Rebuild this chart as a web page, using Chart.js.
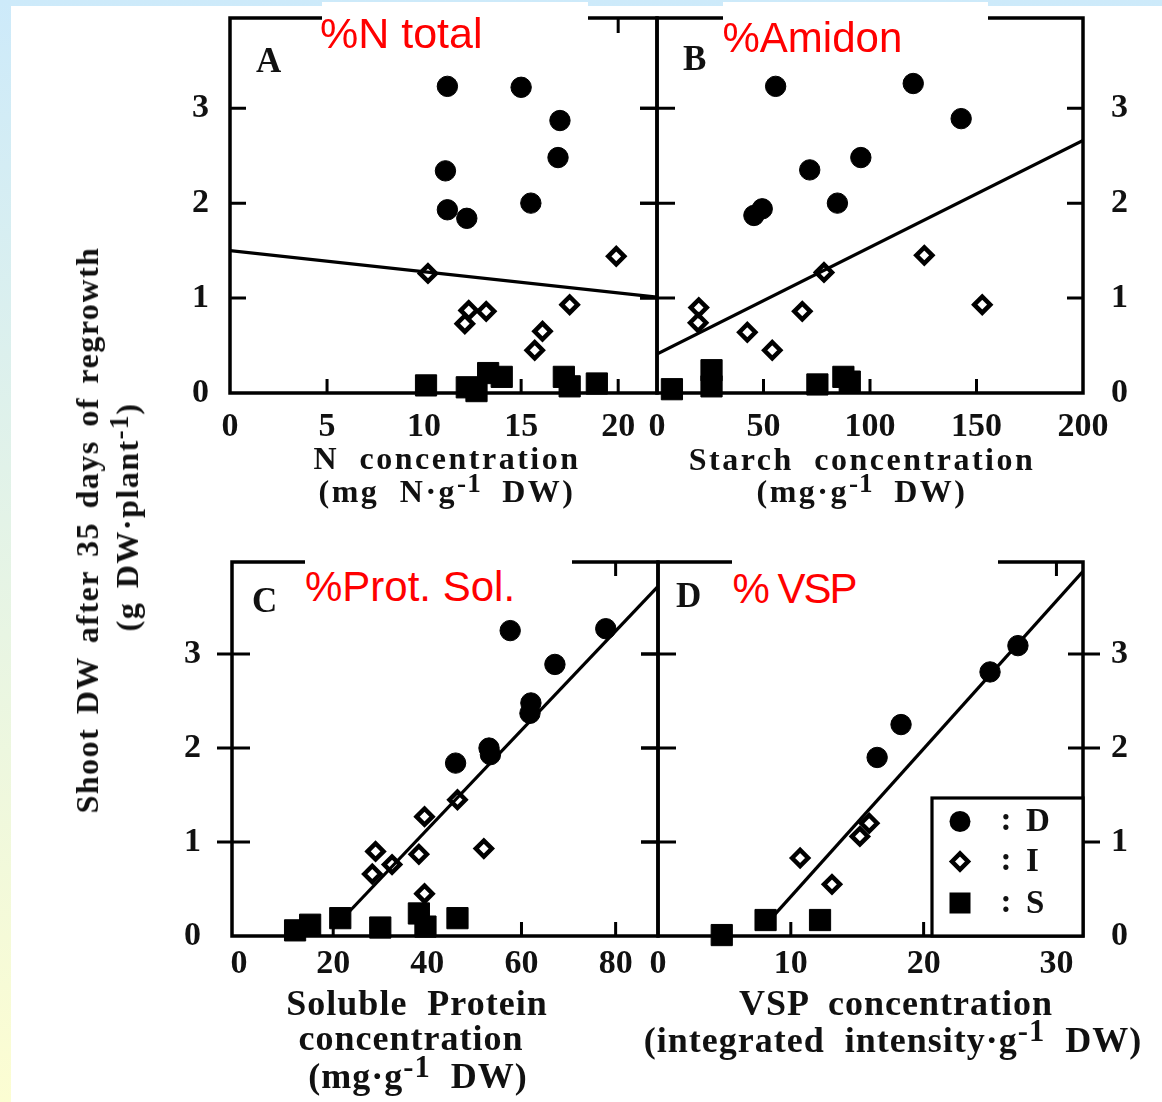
<!DOCTYPE html>
<html>
<head>
<meta charset="utf-8">
<script src="https://cdn.jsdelivr.net/npm/chart.js@4.4.1/dist/chart.umd.min.js"></script>
<style>
  html, body { margin: 0; padding: 0; }
  body {
    width: 1162px; height: 1102px; position: relative; overflow: hidden;
    background: linear-gradient(#cdeafa, #fcfdd2);
  }
  #sheet { position: absolute; left: 11px; top: 6px; right: 0; bottom: 0; background: #fff; }
  canvas { position: absolute; left: 0; top: 0; }
  .lbl {
    position: absolute; white-space: nowrap; line-height: 1; color: #111;
    font-family: "Liberation Serif", "Times New Roman", serif; font-weight: bold;
  }
  .t32 { font-size: 32px; letter-spacing: 2.5px; word-spacing: 10px; transform: translateX(-50%); }
  .t36 { font-size: 36px; letter-spacing: 1px; word-spacing: 10px; transform: translateX(-50%); }
  .lbl sup { font-size: 0.85em; line-height: 0; vertical-align: 0.35em; letter-spacing: 1px; }
  .ytitle { font-size: 32px; letter-spacing: 1.5px; word-spacing: 4px; transform: translate(-50%, -50%) rotate(-90deg); }
  .letter { font-size: 35px; }
  .redbox { position: absolute; background: #fff; z-index: 5; }
  .redbox span {
    position: absolute; white-space: nowrap; line-height: 1; color: #ff0000;
    font-family: "Liberation Sans", Arial, sans-serif;
  }
</style>
</head>
<body>
<div id="sheet"></div>
<canvas id="pA" width="1162" height="1102"></canvas>
<canvas id="pB" width="1162" height="1102"></canvas>
<canvas id="pC" width="1162" height="1102"></canvas>
<canvas id="pD" width="1162" height="1102"></canvas>

<!-- panel letters -->
<div class="lbl letter" style="left:256px;top:43px">A</div>
<div class="lbl letter" style="left:683px;top:41px">B</div>
<div class="lbl letter" style="left:252px;top:583px">C</div>
<div class="lbl letter" style="left:676px;top:578px">D</div>

<!-- axis titles -->
<div class="lbl t32" style="left:447px;top:442px">N concentration</div>
<div class="lbl t32" style="left:447px;top:475px">(mg N·g<sup>-1</sup> DW)</div>
<div class="lbl t32" style="left:862px;top:443px">Starch concentration</div>
<div class="lbl t32" style="left:862px;top:475px">(mg·g<sup>-1</sup> DW)</div>
<div class="lbl t36" style="left:417px;top:985px">Soluble Protein</div>
<div class="lbl t36" style="left:411px;top:1020px">concentration</div>
<div class="lbl t36" style="left:418px;top:1058px">(mg·g<sup>-1</sup> DW)</div>
<div class="lbl t36" style="left:896px;top:985px">VSP concentration</div>
<div class="lbl t36" style="left:893px;top:1022px">(integrated intensity·g<sup>-1</sup> DW)</div>
<div class="lbl ytitle" style="left:87px;top:530px">Shoot DW after 35 days of regrowth</div>
<div class="lbl ytitle" style="left:127px;top:517px">(g DW·plant<sup>-1</sup>)</div>

<!-- red overlay labels -->
<div class="redbox" style="left:322px;top:2px;width:266px;height:55px"><span style="left:-2px;top:9.6px;font-size:43px">%N total</span></div>
<div class="redbox" style="left:723px;top:2px;width:265px;height:61px"><span style="left:-0.5px;top:14.5px;font-size:42px">%Amidon</span></div>
<div class="redbox" style="left:305px;top:558px;width:267px;height:57px"><span style="left:0px;top:8px;font-size:42px">%Prot. Sol.</span></div>
<div class="redbox" style="left:732px;top:558px;width:266px;height:60px"><span style="left:0.5px;top:10px;font-size:42px;letter-spacing:-2px">% VSP</span></div>

<script>
// ---- values ----
const yTicks = [0, 1, 2, 3];

// A: N concentration
const nTicks = [0, 5, 10, 15, 20];
const nDx = [11.2, 15.0, 17.0, 16.9, 11.1, 11.2, 12.2, 15.5];
const nDy = [3.23, 3.22, 2.87, 2.48, 2.34, 1.93, 1.84, 2.0];
const nIx = [10.2, 19.9, 12.3, 13.2, 12.1, 17.5, 16.1, 15.7];
const nIy = [1.26, 1.44, 0.87, 0.86, 0.73, 0.93, 0.65, 0.45];
const nSx = [10.1, 12.2, 12.7, 13.3, 14.0, 17.2, 17.5, 18.9];
const nSy = [0.08, 0.06, 0.02, 0.21, 0.17, 0.17, 0.07, 0.10];
const nFitX = [0, 22];
const nFitY = [1.5, 1.01];

// B: starch concentration
const stTicks = [0, 50, 100, 150, 200];
const stDx = [55.7, 120.3, 142.8, 95.7, 71.7, 84.7, 45.5, 49.4];
const stDy = [3.23, 3.26, 2.89, 2.48, 2.35, 2.0, 1.87, 1.94];
const stIx = [125.5, 78.4, 152.7, 68.2, 19.6, 19.3, 42.4, 54.1];
const stIy = [1.45, 1.27, 0.93, 0.86, 0.90, 0.74, 0.64, 0.45];
const stSx = [7.0, 25.6, 25.6, 75.3, 87.5, 90.5];
const stSy = [0.04, 0.24, 0.07, 0.09, 0.17, 0.12];
const stFitX = [0, 200];
const stFitY = [0.41, 2.66];

// C: soluble protein concentration
const spTicks = [0, 20, 40, 60, 80];
const spDx = [57.6, 77.9, 67.1, 62.0, 61.8, 53.1, 53.4, 46.0];
const spDy = [3.25, 3.27, 2.89, 2.48, 2.37, 2.0, 1.93, 1.84];
const spIx = [46.4, 39.4, 29.0, 32.5, 28.3, 38.2, 52.0, 39.4];
const spIy = [1.45, 1.27, 0.90, 0.76, 0.66, 0.87, 0.93, 0.45];
const spSx = [11.9, 15.1, 21.5, 30.0, 38.2, 39.6, 46.4];
const spSy = [0.06, 0.12, 0.19, 0.09, 0.24, 0.10, 0.19];
const spFitX = [20, 89];
const spFitY = [0.08, 3.72];

// D: VSP concentration
const vTicks = [0, 10, 20, 30];
const vDx = [27.1, 25.0, 18.3, 16.5];
const vDy = [3.09, 2.81, 2.25, 1.90];
const vIx = [15.9, 15.2, 10.7, 13.1];
const vIy = [1.20, 1.06, 0.83, 0.55];
const vSx = [4.8, 8.1, 12.2];
const vSy = [0.01, 0.17, 0.17];
const vFitX = [8.8, 32];
const vFitY = [0.23, 3.88];

const keyLabels = ['D', 'I', 'S'];

const tickFont = {family: '"Liberation Serif", "Times New Roman", serif', size: 34, weight: 'bold'};

function pts(xs, ys) {
  return xs.map((v, i) => ({x: v, y: ys[i]}));
}

// box round the plot plus the short inward (and some outward) tick marks
const framePlugin = {
  id: 'frame',
  beforeDatasetsDraw(chart, args, o) {
    const {ctx, chartArea: a} = chart;
    const x = chart.scales.x, y = chart.scales.y;
    ctx.save();
    ctx.strokeStyle = '#000';
    ctx.lineWidth = 3;
    ctx.beginPath();
    x.ticks.forEach(t => {
      if (t.value <= Math.max(x.min, 0) || t.value >= x.max) return;
      const px = x.getPixelForValue(t.value);
      ctx.moveTo(px, a.bottom + o.bottom[1]); ctx.lineTo(px, a.bottom - o.bottom[0]);
      ctx.moveTo(px, a.top - o.top[1]); ctx.lineTo(px, a.top + o.top[0]);
    });
    y.ticks.forEach(t => {
      if (t.value <= y.min || t.value >= y.max) return;
      const py = y.getPixelForValue(t.value);
      ctx.moveTo(a.left - o.left[1], py); ctx.lineTo(a.left + o.left[0], py);
      ctx.moveTo(a.right + o.right[1], py); ctx.lineTo(a.right - o.right[0], py);
    });
    ctx.stroke();
    ctx.lineWidth = 3.5;
    ctx.strokeRect(a.left, a.top, a.right - a.left, a.bottom - a.top);
    ctx.restore();
  }
};

// the boxed key in the bottom right corner of panel D
const keyPlugin = {
  id: 'keyBox',
  afterDatasetsDraw(chart, args, o) {
    const {ctx, chartArea: a} = chart;
    const left = a.right - o.w, top = a.bottom - o.h;
    ctx.save();
    ctx.fillStyle = '#fff';
    ctx.fillRect(left, top, o.w, o.h);
    ctx.strokeStyle = '#000';
    ctx.lineWidth = 3.2;
    ctx.strokeRect(left, top, o.w, o.h);
    ctx.font = 'bold 33px "Liberation Serif", serif';
    ctx.textBaseline = 'middle';
    keyLabels.forEach((lab, i) => {
      const cy = top + o.rows[i];
      const cx = left + 28;
      ctx.fillStyle = '#000';
      ctx.beginPath();
      if (i === 0) {
        ctx.arc(cx, cy, 10.5, 0, Math.PI * 2);
        ctx.fill();
      } else if (i === 1) {
        ctx.lineWidth = 4.5;
        ctx.moveTo(cx - 8, cy); ctx.lineTo(cx, cy - 8);
        ctx.lineTo(cx + 8, cy); ctx.lineTo(cx, cy + 8);
        ctx.closePath();
        ctx.stroke();
      } else {
        ctx.fillRect(cx - 10.5, cy - 10.5, 21, 21);
      }
      ctx.fillStyle = '#111';
      ctx.textAlign = 'center';
      ctx.fillText(':', left + 74, cy);
      ctx.textAlign = 'left';
      ctx.fillText(lab, left + 94, cy + 1);
    });
    ctx.restore();
  }
};

function panel(id, p) {
  const fixedTicks = vals => s => { s.ticks = vals.map(v => ({value: v})); };
  new Chart(document.getElementById(id), {
    type: 'scatter',
    data: {
      datasets: [
        {data: pts(p.dx, p.dy), pointStyle: 'circle', pointRadius: 10.2,
         pointBackgroundColor: '#000', pointBorderColor: '#000', pointBorderWidth: 1, clip: false},
        {data: pts(p.ix, p.iy), pointStyle: 'rectRot', pointRadius: 8,
         pointBackgroundColor: 'rgba(255,255,255,0)', pointBorderColor: '#000', pointBorderWidth: 4.5, clip: false},
        {data: pts(p.sx, p.sy), pointStyle: 'rect', pointRadius: 15,
         pointBackgroundColor: '#000', pointBorderColor: '#000', pointBorderWidth: 1, clip: false},
        {data: pts(p.fx, p.fy), showLine: true, borderColor: '#000', borderWidth: 3.2,
         pointRadius: 0, order: 5}
      ]
    },
    options: {
      responsive: false,
      animation: false,
      events: [],
      devicePixelRatio: 1,
      layout: {padding: p.pad},
      plugins: {
        legend: {display: false},
        tooltip: {enabled: false},
        frame: p.marks,
        keyBox: p.key || false
      },
      scales: {
        x: {
          type: 'linear', position: 'bottom', min: p.xmin, max: p.xmax,
          grid: {display: false, drawTicks: false}, border: {display: false},
          afterBuildTicks: fixedTicks(p.xt),
          afterFit: s => { s.height = p.xh; s.paddingLeft = 0; s.paddingRight = 0; },
          ticks: {font: tickFont, color: '#111', padding: p.xpad, maxRotation: 0, autoSkip: false}
        },
        y: {
          type: 'linear', position: p.ypos, min: 0, max: p.ymax,
          grid: {display: false, drawTicks: false}, border: {display: false},
          afterBuildTicks: fixedTicks(yTicks),
          afterFit: s => { s.width = p.yw; s.paddingTop = 0; s.paddingBottom = 0; },
          ticks: {font: tickFont, color: '#111', padding: p.ypad, autoSkip: false}
        }
      }
    },
    plugins: [framePlugin, keyPlugin]
  });
}

panel('pA', {
  dx: nDx, dy: nDy, ix: nIx, iy: nIy, sx: nSx, sy: nSy, fx: nFitX, fy: nFitY,
  xt: nTicks, xmin: 0, xmax: 22, ymax: 3.95,
  pad: {left: 0, top: 18, right: 505, bottom: 649}, xh: 60, xpad: 14,
  ypos: 'left', yw: 230, ypad: 21,
  marks: {left: [16, 0], right: [17, 0], top: [15, 0], bottom: [14, 0]}
});

panel('pB', {
  dx: stDx, dy: stDy, ix: stIx, iy: stIy, sx: stSx, sy: stSy, fx: stFitX, fy: stFitY,
  xt: stTicks, xmin: 0, xmax: 200, ymax: 3.95,
  pad: {left: 657, top: 18, right: 0, bottom: 649}, xh: 60, xpad: 14,
  ypos: 'right', yw: 79, ypad: 28,
  marks: {left: [18, 17], right: [16, 0], top: [15, 0], bottom: [14, 0]}
});

panel('pC', {
  dx: spDx, dy: spDy, ix: spIx, iy: spIy, sx: spSx, sy: spSy, fx: spFitX, fy: spFitY,
  xt: spTicks, xmin: -1.5, xmax: 89, ymax: 3.98,
  pad: {left: 0, top: 562, right: 504, bottom: 116}, xh: 50, xpad: 8,
  ypos: 'left', yw: 232, ypad: 31,
  marks: {left: [18, 15], right: [17, 0], top: [14, 0], bottom: [14, 0]}
});

panel('pD', {
  dx: vDx, dy: vDy, ix: vIx, iy: vIy, sx: vSx, sy: vSy, fx: vFitX, fy: vFitY,
  xt: vTicks, xmin: 0, xmax: 32, ymax: 3.98,
  pad: {left: 658, top: 562, right: 0, bottom: 116}, xh: 50, xpad: 8,
  ypos: 'right', yw: 79, ypad: 28,
  marks: {left: [18, 17], right: [15, 17], top: [14, 0], bottom: [14, 0]},
  key: {w: 151, h: 138, rows: [23.5, 63.5, 105]}
});
</script>
</body>
</html>
